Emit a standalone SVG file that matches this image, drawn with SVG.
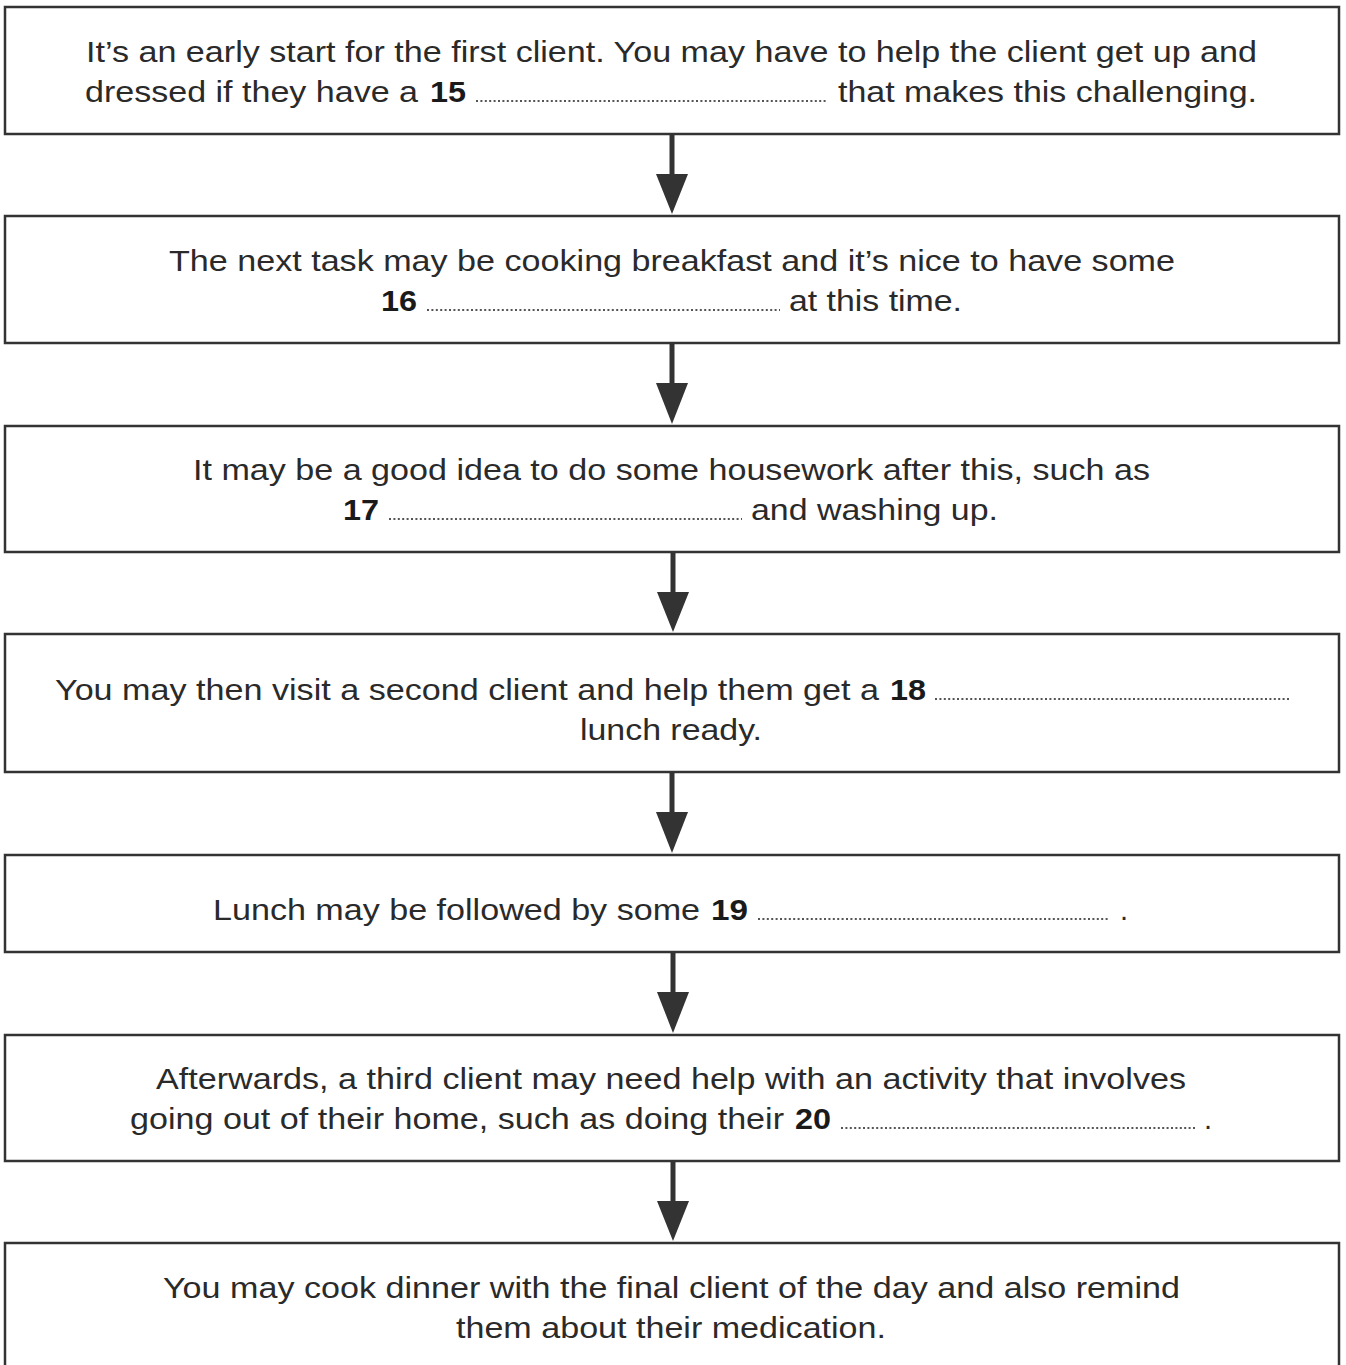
<svg xmlns="http://www.w3.org/2000/svg" width="1346" height="1365" viewBox="0 0 1346 1365">
<defs>
<style>
.box{fill:#fff;stroke:#333;stroke-width:2.5}
.t{font-family:"Liberation Sans",Arial,sans-serif;font-size:29px;fill:#2a2a2a}
.b{font-weight:bold;fill:#1a1a1a}
.dots{stroke:#555;stroke-width:2;stroke-dasharray:2 2.4}
.shaft{stroke:#333;stroke-width:5}
.head{fill:#333}
</style>
</defs>
<rect width="1346" height="1365" fill="#fff"/>
<g id="connectors">
<line class="shaft" x1="672" y1="134" x2="672" y2="176"/><polygon class="head" points="656,174 688,174 672,214"/>
<line class="shaft" x1="672" y1="343" x2="672" y2="385"/><polygon class="head" points="656,383 688,383 672,424"/>
<line class="shaft" x1="673" y1="552" x2="673" y2="594"/><polygon class="head" points="657,592 689,592 673,632"/>
<line class="shaft" x1="672" y1="772" x2="672" y2="814"/><polygon class="head" points="656,812 688,812 672,853"/>
<line class="shaft" x1="673" y1="952" x2="673" y2="994"/><polygon class="head" points="657,992 689,992 673,1033"/>
<line class="shaft" x1="673" y1="1161" x2="673" y2="1203"/><polygon class="head" points="657,1201 689,1201 673,1241"/>
</g>
<g id="n1">
<rect class="box" x="5" y="7" width="1334" height="127"/>
<text class="t" x="86" y="62" textLength="1171" lengthAdjust="spacingAndGlyphs">It’s an early start for the first client. You may have to help the client get up and</text>
<text class="t" x="85" y="102" textLength="333" lengthAdjust="spacingAndGlyphs">dressed if they have a</text>
<text class="t b" x="430" y="102" textLength="36" lengthAdjust="spacingAndGlyphs">15</text>
<line class="dots" x1="476" y1="101" x2="828" y2="101"/>
<text class="t" x="838" y="102" textLength="419" lengthAdjust="spacingAndGlyphs">that makes this challenging.</text>
</g>
<g id="n2">
<rect class="box" x="5" y="216" width="1334" height="127"/>
<text class="t" x="169" y="271" textLength="1006" lengthAdjust="spacingAndGlyphs">The next task may be cooking breakfast and it’s nice to have some</text>
<text class="t b" x="381" y="311" textLength="36" lengthAdjust="spacingAndGlyphs">16</text>
<line class="dots" x1="427" y1="310" x2="780" y2="310"/>
<text class="t" x="789" y="311" textLength="173" lengthAdjust="spacingAndGlyphs">at this time.</text>
</g>
<g id="n3">
<rect class="box" x="5" y="426" width="1334" height="126"/>
<text class="t" x="193" y="480" textLength="957" lengthAdjust="spacingAndGlyphs">It may be a good idea to do some housework after this, such as</text>
<text class="t b" x="343" y="520" textLength="36" lengthAdjust="spacingAndGlyphs">17</text>
<line class="dots" x1="389" y1="519" x2="742" y2="519"/>
<text class="t" x="751" y="520" textLength="247" lengthAdjust="spacingAndGlyphs">and washing up.</text>
</g>
<g id="n4">
<rect class="box" x="5" y="634" width="1334" height="138"/>
<text class="t" x="55" y="700" textLength="824" lengthAdjust="spacingAndGlyphs">You may then visit a second client and help them get a</text>
<text class="t b" x="890" y="700" textLength="36" lengthAdjust="spacingAndGlyphs">18</text>
<line class="dots" x1="935" y1="699" x2="1290" y2="699"/>
<text class="t" x="580" y="740" textLength="182" lengthAdjust="spacingAndGlyphs">lunch ready.</text>
</g>
<g id="n5">
<rect class="box" x="5" y="855" width="1334" height="97"/>
<text class="t" x="213" y="920" textLength="487" lengthAdjust="spacingAndGlyphs">Lunch may be followed by some</text>
<text class="t b" x="711" y="920" textLength="37" lengthAdjust="spacingAndGlyphs">19</text>
<line class="dots" x1="758" y1="919" x2="1110" y2="919"/>
<text class="t" x="1120" y="920">.</text>
</g>
<g id="n6">
<rect class="box" x="5" y="1035" width="1334" height="126"/>
<text class="t" x="156" y="1089" textLength="1030" lengthAdjust="spacingAndGlyphs">Afterwards, a third client may need help with an activity that involves</text>
<text class="t" x="130" y="1129" textLength="654" lengthAdjust="spacingAndGlyphs">going out of their home, such as doing their</text>
<text class="t b" x="795" y="1129" textLength="36" lengthAdjust="spacingAndGlyphs">20</text>
<line class="dots" x1="841" y1="1128" x2="1195" y2="1128"/>
<text class="t" x="1204" y="1129">.</text>
</g>
<g id="n7">
<rect class="box" x="5" y="1243" width="1334" height="140"/>
<text class="t" x="163" y="1298" textLength="1017" lengthAdjust="spacingAndGlyphs">You may cook dinner with the final client of the day and also remind</text>
<text class="t" x="456" y="1338" textLength="430" lengthAdjust="spacingAndGlyphs">them about their medication.</text>
</g>
</svg>
